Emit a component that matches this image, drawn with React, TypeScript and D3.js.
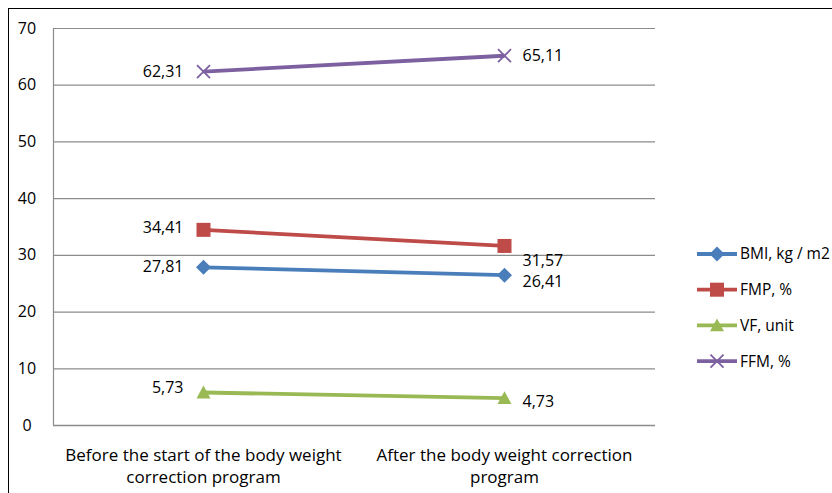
import React from "react";
import * as d3 from "d3";

const categories = [
  ["Before the start of the body weight", "correction program"],
  ["After the body weight correction", "program"],
];
const seriesNames = ["BMI, kg / m2", "FMP, %", "VF, unit", "FFM, %"];
const bmi = [27.81, 26.41];
const fmp = [34.41, 31.57];
const vf = [5.73, 4.73];
const ffm = [62.31, 65.11];
const yTicks = [0, 10, 20, 30, 40, 50, 60, 70];

const colors = ["#4A7EBB", "#BE4B48", "#98B954", "#7D60A0"];
const markers = ["diamond", "square", "triangle", "x"];
// label vertical offsets per series/point (style)
const labelDy = [[-1, 6], [-2, 14], [-5, 3], [0, 0]];

const W = 832, H = 493;
const plot = { left: 53, right: 655, top: 28, bottom: 425 };
const FONT = "'Open Sans', Arial, sans-serif";

function Marker({ type, x, y, color }: { type: string; x: number; y: number; color: string }) {
  if (type === "diamond") {
    const s = 7.5;
    return <path d={`M${x},${y - s}L${x + s},${y}L${x},${y + s}L${x - s},${y}Z`} fill={color} />;
  }
  if (type === "square") {
    const s = 7;
    return <rect x={x - s} y={y - s} width={2 * s} height={2 * s} fill={color} />;
  }
  if (type === "triangle") {
    const s = 7;
    return <path d={`M${x},${y - s}L${x + s},${y + s * 0.85}L${x - s},${y + s * 0.85}Z`} fill={color} />;
  }
  const s = 6.5;
  return (
    <path d={`M${x - s},${y - s}L${x + s},${y + s}M${x - s},${y + s}L${x + s},${y - s}`} stroke={color} strokeWidth={1.8} fill="none" />
  );
}

export default function App() {
  const data = [bmi, fmp, vf, ffm];
  const x = d3.scaleBand<number>().domain([0, 1]).range([plot.left, plot.right]);
  const y = d3.scaleLinear().domain([0, 70]).range([plot.bottom, plot.top]);
  const cx = (i: number) => (x(i) as number) + x.bandwidth() / 2;
  const line = d3.line<number>().x((_, i) => cx(i)).y((d) => y(d));
  const fmt = (v: number) => v.toFixed(2).replace(".", ",");

  return (
    <svg width={W} height={H} style={{ position: "absolute", left: 0, top: 0, background: "#fff" }}>
      <rect x={0} y={0} width={W} height={H} fill="#fff" />
      <rect x={8.5} y={8.5} width={W + 20} height={H + 20} fill="none" stroke="#000" strokeWidth={1} />
      {yTicks.map((t) => (
        <g key={t}>
          {t > 0 && <line x1={plot.left} x2={plot.right} y1={y(t) + 0.5} y2={y(t) + 0.5} stroke="#8C8C8C" strokeWidth={1.2} />}
          <text x={27} y={y(t)} dy="0.35em" textAnchor="middle" fontFamily={FONT} fontSize={16} fill="#000">
            {t}
          </text>
        </g>
      ))}
      <line x1={plot.left + 0.5} x2={plot.left + 0.5} y1={plot.top} y2={plot.bottom} stroke="#8C8C8C" strokeWidth={1.2} />
      <line x1={plot.left} x2={plot.right} y1={plot.bottom + 0.5} y2={plot.bottom + 0.5} stroke="#8C8C8C" strokeWidth={1.5} />
      {categories.map((lines, i) => (
        <text key={i} x={cx(i)} y={455} dy="0.35em" textAnchor="middle" fontFamily={FONT} fontSize={17} fill="#000">
          {lines.map((l, j) => (
            <tspan key={j} x={cx(i)} dy={j === 0 ? "0.35em" : 22}>
              {l}
            </tspan>
          ))}
        </text>
      ))}
      {data.map((vals, s) => (
        <g key={s}>
          <path d={line(vals) || ""} fill="none" stroke={colors[s]} strokeWidth={3.8} />
          {vals.map((v, i) => (
            <Marker key={i} type={markers[s]} x={cx(i)} y={y(v)} color={colors[s]} />
          ))}
          {vals.map((v, i) => (
            <text
              key={"l" + i}
              x={i === 0 ? cx(i) - 20 : cx(i) + 18}
              y={y(v) + labelDy[s][i]}
              dy="0.35em"
              textAnchor={i === 0 ? "end" : "start"}
              fontFamily={FONT}
              fontSize={16}
              fill="#000"
            >
              {fmt(v)}
            </text>
          ))}
        </g>
      ))}
      {seriesNames.map((n, s) => {
        const ly = 254 + s * 35.7;
        return (
          <g key={n}>
            <line x1={697} x2={737} y1={ly} y2={ly} stroke={colors[s]} strokeWidth={3.8} />
            <Marker type={markers[s]} x={717} y={ly} color={colors[s]} />
            <text x={740} y={ly} dy="0.35em" fontFamily={FONT} fontSize={15.5} fill="#000">
              {n}
            </text>
          </g>
        );
      })}
    </svg>
  );
}
